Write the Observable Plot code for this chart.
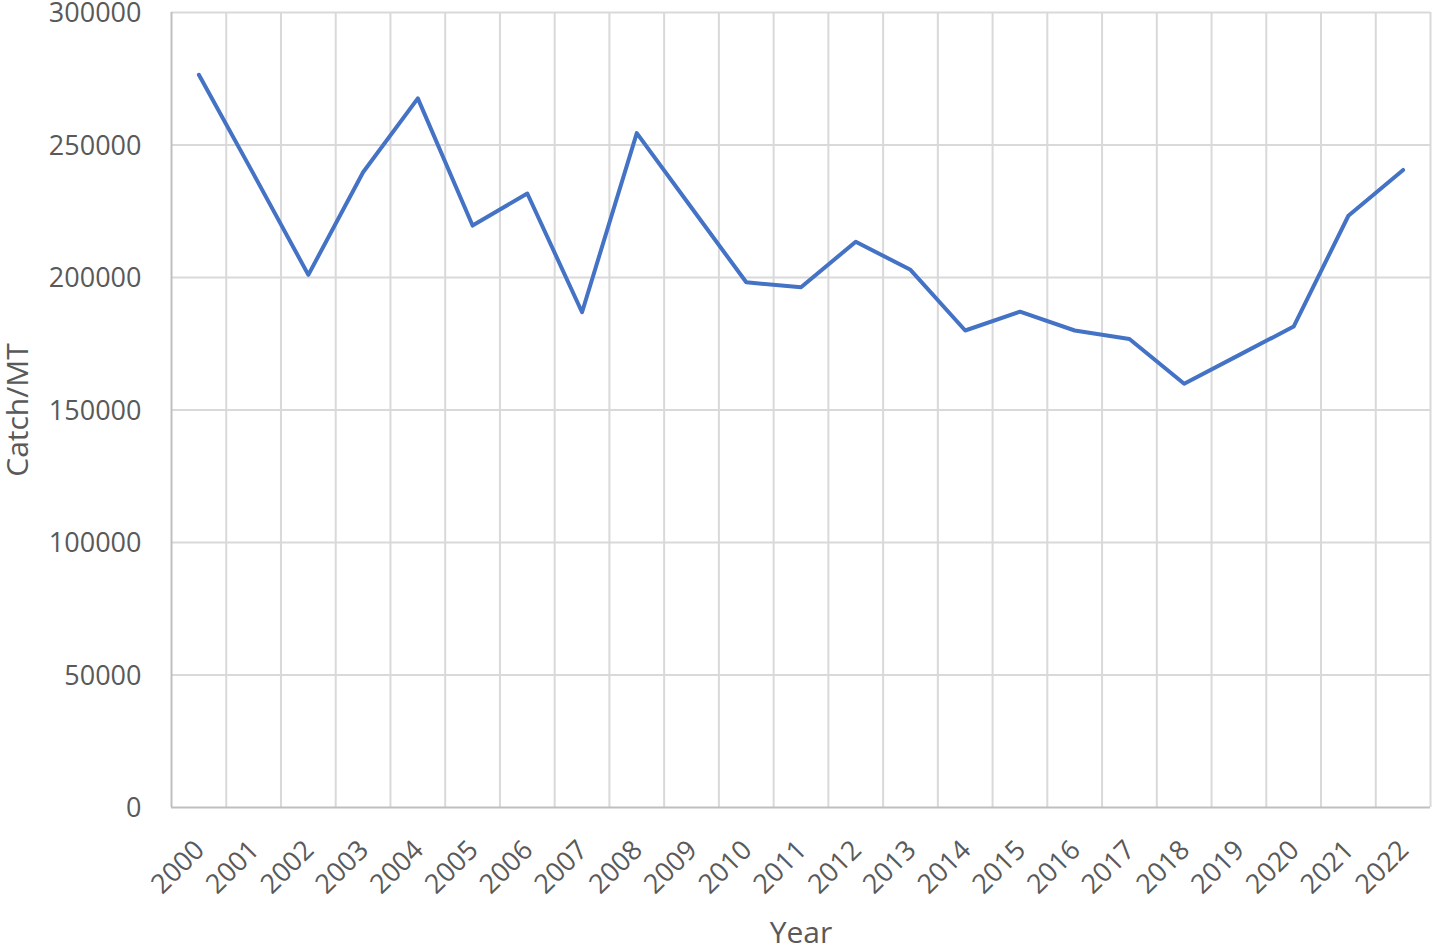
<!DOCTYPE html>
<html>
<head>
<meta charset="utf-8">
<script src="https://cdn.jsdelivr.net/npm/d3@7"></script>
<script src="https://cdn.jsdelivr.net/npm/@observablehq/plot@0.6"></script>
<style>
  html, body { margin: 0; padding: 0; background: #fff; }
  #chart { width: 1433px; height: 945px; overflow: hidden; }
</style>
</head>
<body>
<div id="chart"></div>
<script>
const years = [2000,2001,2002,2003,2004,2005,2006,2007,2008,2009,2010,2011,2012,2013,2014,2015,2016,2017,2018,2019,2020,2021,2022];
const catchMT = [276500,239000,201000,239700,267600,219600,231700,186900,254500,226300,198200,196300,213500,202900,180000,187100,180000,176800,159900,170700,181500,223300,240600];
const yTicks = [0,50000,100000,150000,200000,250000,300000];
const xLabel = "Year";
const yLabel = "Catch/MT";

const data = years.map((y, i) => ({year: y, value: catchMT[i]}));
const boundaries = years.map(y => y + 0.5);

const chart = Plot.plot({
  width: 1433,
  height: 945,
  marginLeft: 171,
  marginRight: 3,
  marginTop: 12,
  marginBottom: 138,
  style: {fontFamily: "'Open Sans', sans-serif", fontSize: "27px", color: "#595959", background: "#fff"},
  x: {domain: [years[0] - 0.5, years[years.length - 1] + 0.5]},
  y: {domain: [0, 300000]},
  marks: [
    Plot.ruleY(yTicks.slice(1), {stroke: "#d9d9d9", strokeWidth: 2}),
    Plot.ruleX(boundaries, {stroke: "#d9d9d9", strokeWidth: 2}),
    Plot.ruleX([years[0] - 0.5], {stroke: "#bfbfbf", strokeWidth: 2}),
    Plot.ruleY([0], {stroke: "#bfbfbf", strokeWidth: 2}),
    Plot.axisY({ticks: yTicks, tickSize: 0, tickPadding: 30, tickFormat: d => String(d), label: null, fontSize: 27, dy: 1}),
    Plot.axisX({ticks: years, tickSize: 0, tickPadding: 38, tickRotate: -45, tickFormat: d => String(d), label: null, fontSize: 27, dx: 1}),
    Plot.text([xLabel], {frameAnchor: "bottom", dy: 126, lineAnchor: "middle", textAnchor: "middle", fontSize: 30, fill: "#595959"}),
    Plot.text([yLabel], {frameAnchor: "left", dx: -153, rotate: -90, lineAnchor: "middle", textAnchor: "middle", fontSize: 30, fill: "#595959"}),
    Plot.line(data, {x: "year", y: "value", stroke: "#4472c4", strokeWidth: 4, strokeLinejoin: "round", strokeLinecap: "round"})
  ]
});
document.getElementById("chart").appendChild(chart);
</script>
</body>
</html>
